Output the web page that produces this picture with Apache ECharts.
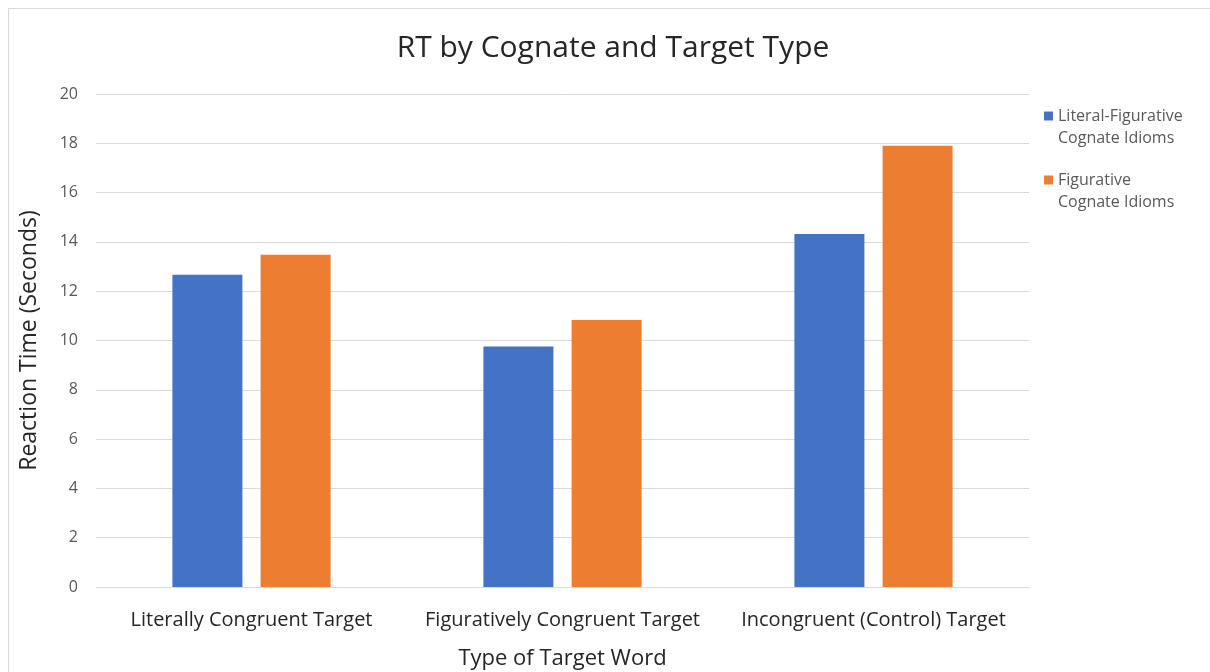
<!DOCTYPE html>
<html>
<head>
<meta charset="utf-8">
<script src="https://cdn.jsdelivr.net/npm/echarts@6/dist/echarts.min.js"></script>
<style>
    html, body { margin: 0; padding: 0; background: #fff; overflow: hidden; }
    #chart {
        position: absolute;
        left: 8px; top: 8px;
        width: 1210px; height: 672px;
        border: 1px solid #d9d9d9;
        box-sizing: border-box;
    }
</style>
</head>
<body>
<div id="chart"></div>
<script>
    // data
    const categories = ['Literally Congruent Target', 'Figuratively Congruent Target', 'Incongruent (Control) Target'];
    const literalFigurative = [12.67, 9.76, 14.32];
    const figurative = [13.48, 10.83, 17.9];
    const seriesNames = ['Literal-Figurative Cognate Idioms', 'Figurative Cognate Idioms'];
    // blank first line so the square lines up with the first text line
    const legendLabels = {
        'Literal-Figurative Cognate Idioms': ' \nLiteral-Figurative\nCognate Idioms',
        'Figurative Cognate Idioms': ' \nFigurative\nCognate Idioms'
    };

    const font = 'Open Sans, Noto Sans, sans-serif';
    const chart = echarts.init(document.getElementById('chart'));

    function makeLegend(name, top){
        return {
            data: [name],
            orient: 'vertical',
            left: 1035,
            top: top,
            padding: 0,
            itemWidth: 9,
            itemHeight: 9,
            icon: 'rect',
            formatter: n => legendLabels[n],
            textStyle: { fontFamily: font, fontSize: 16, color: '#595959', lineHeight: 22 }
        };
    }

    let option = {
        animation: false,
        title: {
            text: 'RT by Cognate and Target Type',
            left: 'center',
            top: 19,
            textStyle: { fontFamily: font, fontSize: 30, fontWeight: 'normal', color: '#262626' }
        },
        legend: [
            makeLegend(seriesNames[0], 74),
            makeLegend(seriesNames[1], 138)
        ],
        grid: {
            left: 87,
            right: 188,
            top: 85,
            bottom: 92
        },
        xAxis: {
            type: 'category',
            data: categories,
            name: 'Type of Target Word',
            nameLocation: 'middle',
            nameGap: 61,
            nameTextStyle: { fontFamily: font, fontSize: 22, color: '#262626' },
            axisTick: { show: false },
            axisLine: { lineStyle: { color: '#d9d9d9' } },
            axisLabel: { interval: 0, fontFamily: font, fontSize: 20, color: '#262626', margin: 23 }
        },
        yAxis: {
            type: 'value',
            min: 0,
            max: 20,
            interval: 2,
            name: 'Reaction Time (Seconds)',
            nameLocation: 'middle',
            nameGap: 55,
            nameTextStyle: { fontFamily: font, fontSize: 23, color: '#262626' },
            axisLine: { show: false },
            axisTick: { show: false },
            axisLabel: { fontFamily: font, fontSize: 16, color: '#595959', margin: 18 },
            splitLine: { lineStyle: { color: '#d9d9d9', width: 1 } }
        },
        series: [
            {
                name: seriesNames[0],
                type: 'bar',
                data: literalFigurative,
                barWidth: 70,
                barGap: '26%',
                itemStyle: { color: '#4472c4' }
            },
            {
                name: seriesNames[1],
                type: 'bar',
                data: figurative,
                barWidth: 70,
                barGap: '26%',
                itemStyle: { color: '#ed7d31' }
            }
        ]
    };
    chart.setOption(option);
</script>
</body>
</html>
